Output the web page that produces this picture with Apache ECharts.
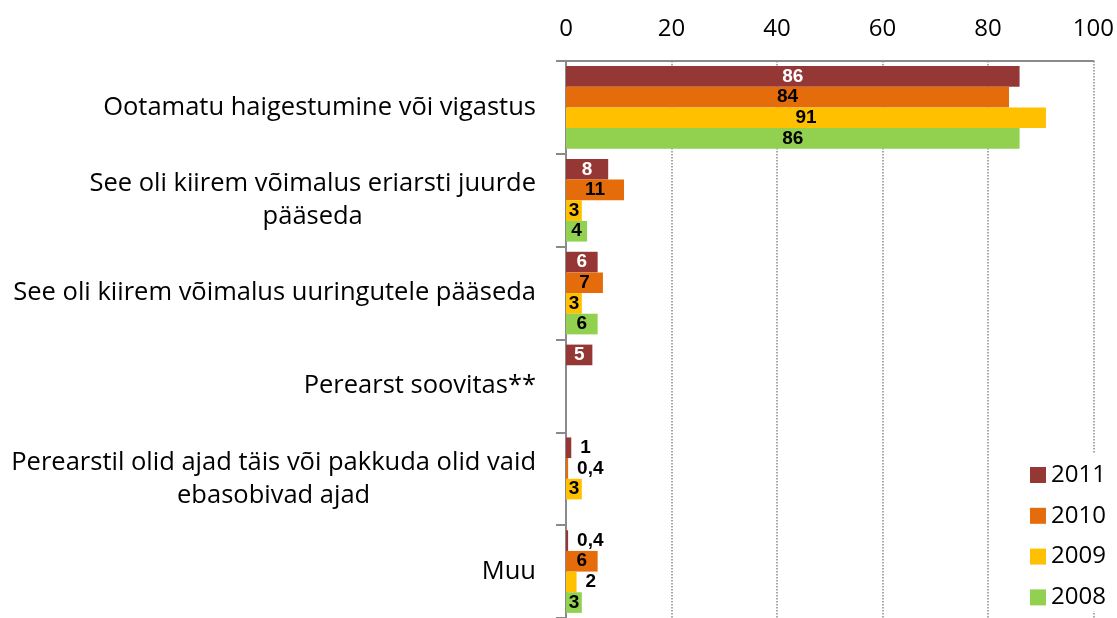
<!DOCTYPE html>
<html>
<head>
<meta charset="utf-8">
<script src="https://cdn.jsdelivr.net/npm/echarts@6/dist/echarts.min.js"></script>
<style>
  html, body { margin: 0; padding: 0; background: #fff; }
  #chart { width: 1117px; height: 618px; }
</style>
</head>
<body>
<div id="chart"></div>
<script>
// kategooriad (ülevalt alla)
const categories = [
  'Ootamatu haigestumine või vigastus',
  'See oli kiirem võimalus eriarsti juurde\npääseda',
  'See oli kiirem võimalus uuringutele pääseda',
  'Perearst soovitas**',
  'Perearstil olid ajad täis või pakkuda olid vaid\nebasobivad ajad',
  'Muu'
];
const years = ['2011', '2010', '2009', '2008'];
const values2011 = [86, 8, 6, 5, 1, 0.4];
const values2010 = [84, 11, 7, null, 0.4, 6];
const values2009 = [91, 3, 3, null, 3, 2];
const values2008 = [86, 4, 6, null, null, 3];
const xTicks = [0, 20, 40, 60, 80, 100];

const colors = ['#953735', '#E46C0A', '#FFC000', '#92D050'];
const allValues = [values2011, values2010, values2009, values2008];

const chart = echarts.init(document.getElementById('chart'));

// väikesed väärtused -> silt tulba kõrvale
const makeData = (arr, idx) => arr.map(v => {
  if (v == null) return null;
  const outside = v < 2.5;
  return {
    value: v,
    label: {
      position: outside ? 'right' : 'inside',
      distance: 9,
      color: (idx === 0 && !outside) ? '#fff' : '#000'
    }
  };
});

const series = years.map((y, i) => ({
  name: y,
  type: 'bar',
  barGap: '0%',
  barCategoryGap: '11%',
  itemStyle: { color: colors[i] },
  label: {
    show: true,
    fontFamily: 'Liberation Sans',
    fontWeight: 'bold',
    fontSize: 19,
    formatter: p => String(p.value).replace('.', ',')
  },
  data: makeData(allValues[i], i)
}));

const option = {
  backgroundColor: '#fff',
  animation: false,
  textStyle: { fontFamily: 'Open Sans' },
  grid: {
    left: 566,
    right: 19,
    top: 61,
    height: 562
  },
  xAxis: {
    type: 'value',
    position: 'top',
    min: xTicks[0],
    max: xTicks[xTicks.length - 1],
    interval: 20,
    axisLine: { show: true, lineStyle: { color: '#8a8a8a', width: 2 } },
    axisTick: { show: false },
    axisLabel: { color: '#000', fontSize: 24, margin: 20 },
    splitLine: { show: true, lineStyle: { type: 'dotted', color: '#8a8a8a', width: 1.5 } }
  },
  yAxis: {
    type: 'category',
    inverse: true,
    data: categories,
    axisLine: { show: true, lineStyle: { color: '#8a8a8a', width: 2 } },
    axisTick: { show: true, length: 10, lineStyle: { color: '#8a8a8a', width: 2 } },
    axisLabel: {
      margin: 30,
      color: '#000',
      fontSize: 25.5,
      lineHeight: 33,
      formatter: v => v.split('\n').map(s => '{c|' + s + '}').join('\n'),
      rich: { c: { align: 'center', fontSize: 25.5, lineHeight: 33, color: '#000' } }
    }
  },
  legend: {
    orient: 'vertical',
    left: 1022,
    top: 453,
    padding: [10, 6, 2, 8],
    backgroundColor: '#fff',
    itemWidth: 16,
    itemHeight: 16,
    itemGap: 16.8,
    icon: 'rect',
    textStyle: { fontSize: 24, color: '#000' },
    data: years
  },
  series: series
};

chart.setOption(option);
window.addEventListener('resize', () => chart.resize());
</script>
</body>
</html>
